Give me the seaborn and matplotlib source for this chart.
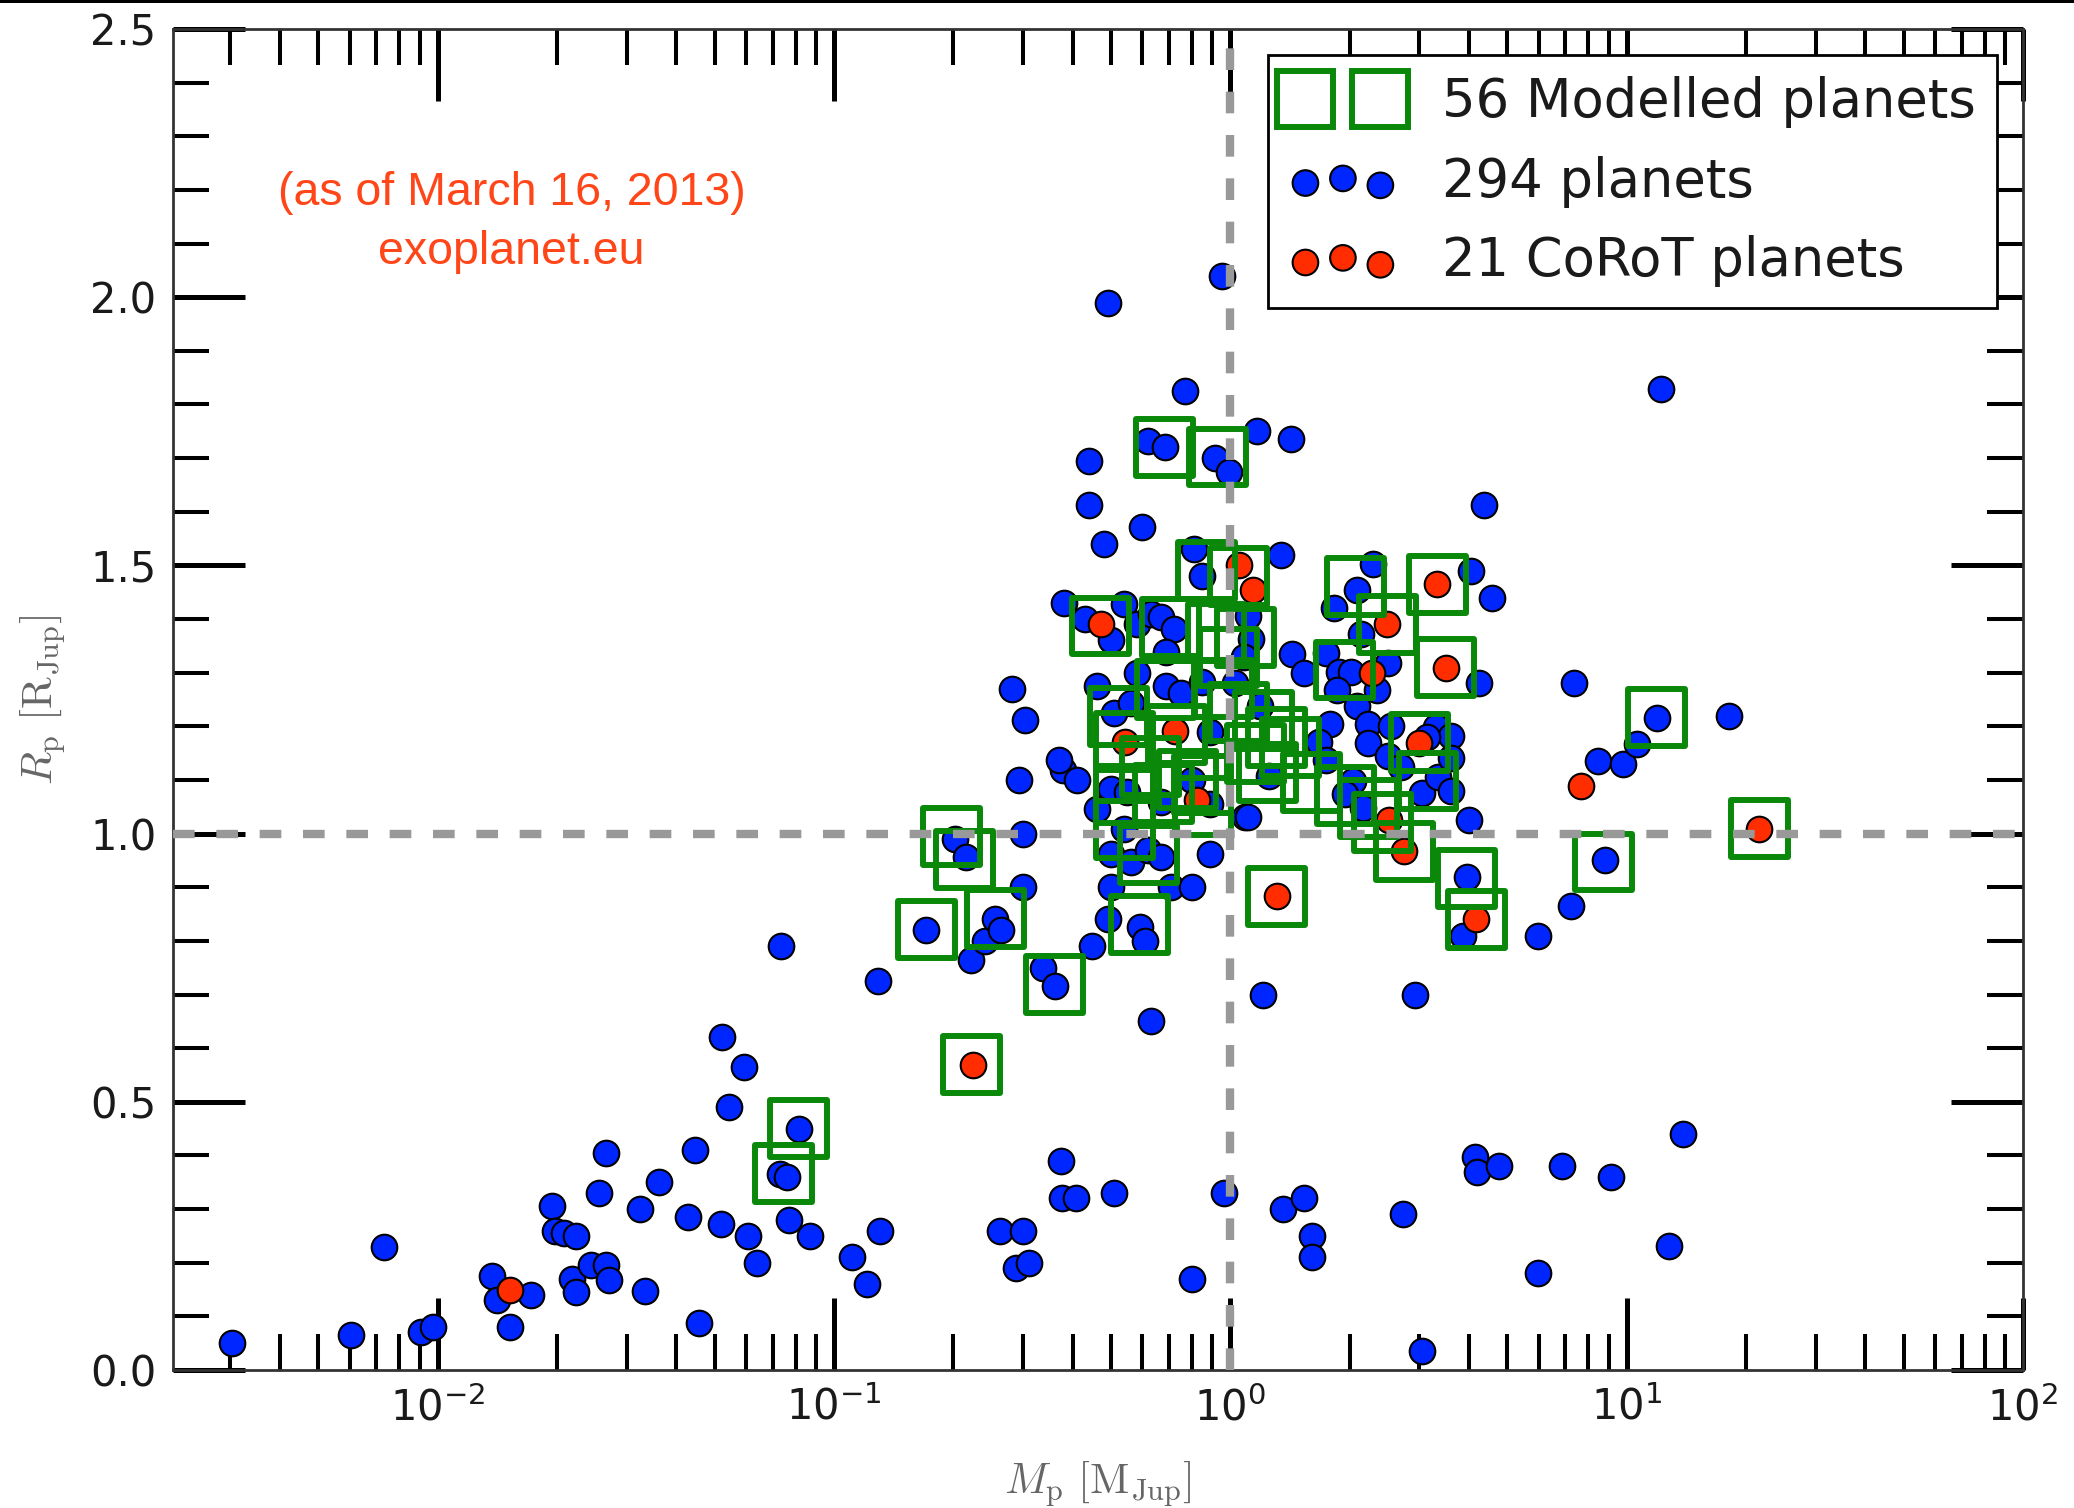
import numpy as np
import matplotlib
matplotlib.use("Agg")
import matplotlib.pyplot as plt
from matplotlib.lines import Line2D
from matplotlib.patches import Rectangle
from matplotlib.ticker import MultipleLocator, FormatStrFormatter, LogLocator
import seaborn as sns

# ---------------------------------------------------------------- data
# Transiting planets: mass [M_Jup], radius [R_Jup]
blue_mass = [
    0.00303, 0.00605, 0.00733, 0.0091, 0.00975, 0.0137, 0.0141, 0.0152, 0.0172, 0.0194,
    0.0198, 0.0208, 0.0218, 0.0223, 0.0223, 0.0243, 0.0255, 0.0266, 0.0266, 0.027,
    0.0323, 0.0333, 0.0362, 0.0429, 0.0446, 0.0456, 0.052, 0.0523, 0.0544, 0.0593,
    0.0607, 0.064, 0.0735, 0.073, 0.076, 0.0769, 0.0818, 0.087, 0.111, 0.121,
    0.129, 0.1305, 0.171, 0.2025, 0.215, 0.222, 0.24, 0.255, 0.264, 0.263,
    0.282, 0.288, 0.299, 0.304, 0.293, 0.299, 0.300, 0.311, 0.336, 0.36,
    0.374, 0.379, 0.377, 0.407, 0.447, 0.490, 0.508, 0.630, 0.80, 0.962,
    1.21, 1.36, 1.53, 1.61, 1.61, 2.72, 3.05, 2.93, 4.14, 4.2,
    4.75, 4.37, 4.57, 4.05, 4.25, 5.98, 5.98, 6.87, 7.36, 7.24,
    8.46, 9.78, 8.8, 9.12, 10.6, 11.9, 12.2, 12.8, 13.9, 18.1,
    3.95, 3.86, 0.77, 0.62, 0.685, 0.915, 0.99, 1.17, 1.42, 0.44,
    0.44, 0.60, 0.48, 0.81, 1.34, 0.955, 0.38, 0.43, 0.50, 0.54,
    0.58, 0.63, 0.67, 0.72, 0.69, 0.85, 1.13, 1.08, 0.58, 0.46,
    0.69, 0.75, 0.85, 0.51, 0.56, 0.89, 1.03, 1.19, 0.37, 0.50,
    0.55, 0.46, 0.67, 0.80, 1.09, 0.54, 0.50, 0.56, 0.62, 0.67,
    0.89, 0.50, 0.71, 0.80, 0.49, 0.59, 0.61, 2.29, 2.09, 1.83,
    2.14, 1.43, 1.53, 1.74, 1.88, 2.01, 2.50, 1.86, 2.35, 2.09,
    1.11, 1.78, 2.22, 1.67, 2.22, 2.54, 3.31, 3.6, 1.74, 2.5,
    1.25, 2.04, 1.95, 2.16, 3.04, 3.34, 4.0, 1.11, 0.41, 0.89,
    3.6, 3.6, 2.7, 3.13,
]
blue_radius = [
    0.05, 0.065, 0.23, 0.07, 0.08, 0.175, 0.13, 0.08, 0.14, 0.305,
    0.26, 0.255, 0.17, 0.25, 0.145, 0.195, 0.33, 0.195, 0.405, 0.167,
    0.30, 0.148, 0.35, 0.285, 0.41, 0.088, 0.272, 0.62, 0.49, 0.565,
    0.25, 0.20, 0.79, 0.365, 0.36, 0.28, 0.45, 0.25, 0.21, 0.16,
    0.725, 0.26, 0.82, 0.99, 0.957, 0.764, 0.80, 0.84, 0.82, 0.26,
    1.27, 0.19, 0.26, 1.211, 1.10, 1.00, 0.90, 0.20, 0.75, 0.715,
    0.39, 1.118, 0.32, 0.32, 0.79, 1.99, 0.33, 0.65, 0.17, 0.33,
    0.70, 0.30, 0.32, 0.25, 0.21, 0.29, 0.035, 0.70, 0.397, 0.37,
    0.38, 1.613, 1.44, 1.49, 1.28, 0.81, 0.18, 0.38, 1.28, 0.865,
    1.135, 1.13, 0.95, 0.36, 1.167, 1.216, 1.828, 0.232, 0.44, 1.22,
    0.92, 0.81, 1.825, 1.732, 1.72, 1.70, 1.674, 1.75, 1.735, 1.695,
    1.613, 1.571, 1.54, 1.53, 1.52, 2.04, 1.43, 1.40, 1.36, 1.428,
    1.39, 1.41, 1.404, 1.381, 1.339, 1.48, 1.362, 1.33, 1.30, 1.275,
    1.275, 1.263, 1.282, 1.225, 1.244, 1.189, 1.28, 1.237, 1.138, 1.083,
    1.078, 1.046, 1.058, 1.10, 1.03, 1.008, 0.962, 0.947, 0.969, 0.957,
    0.962, 0.901, 0.90, 0.90, 0.84, 0.826, 0.799, 1.502, 1.455, 1.421,
    1.372, 1.334, 1.30, 1.337, 1.302, 1.302, 1.318, 1.268, 1.268, 1.237,
    1.405, 1.204, 1.204, 1.171, 1.168, 1.20, 1.199, 1.182, 1.138, 1.144,
    1.107, 1.098, 1.073, 1.048, 1.076, 1.105, 1.026, 1.030, 1.10, 1.055,
    1.14, 1.08, 1.125, 1.18,
]

# CoRoT planets
corot_mass = [0.0152, 0.224, 0.471, 0.541, 0.725, 0.824, 1.05, 1.14, 1.31, 2.28,
              2.49, 3.0, 2.75, 3.33, 3.50, 4.17, 7.66, 21.6, 2.52]
corot_radius = [0.149, 0.569, 1.391, 1.171, 1.191, 1.063, 1.50, 1.455, 0.883, 1.300,
                1.390, 1.169, 0.967, 1.465, 1.309, 0.840, 1.089, 1.009, 1.026]

# Planets with interior models
model_mass = [0.0746, 0.0812, 0.171, 0.198, 0.2135, 0.255, 0.222, 0.360, 0.470, 0.708,
              0.871, 1.05, 0.686, 0.521, 0.541, 0.73, 0.99, 1.05, 0.92, 0.541,
              0.62, 0.59, 0.85, 0.853, 0.54, 1.24, 1.31, 0.682, 0.927, 2.07,
              2.49, 3.33, 3.50, 1.94, 1.09, 3.0, 1.95, 2.23, 2.42, 2.75,
              3.14, 1.6, 3.94, 4.17, 8.75, 11.9, 21.6, 1.21, 1.31, 1.16,
              1.42, 0.78, 0.63, 0.96, 0.68]
model_radius = [0.367, 0.451, 0.822, 0.994, 0.952, 0.841, 0.569, 0.718, 1.387, 1.384,
                1.490, 1.48, 1.268, 1.218, 1.171, 1.185, 1.328, 1.225, 1.375, 1.008,
                0.961, 0.831, 1.092, 1.051, 1.073, 1.114, 0.883, 1.720, 1.702, 1.461,
                1.390, 1.465, 1.309, 1.305, 1.365, 1.169, 1.071, 1.047, 1.021, 0.967,
                1.098, 1.095, 0.917, 0.840, 0.947, 1.216, 1.009, 1.21, 1.18, 1.15,
                1.16, 1.10, 1.125, 1.27, 1.075]

legend_labels = ["56 Modelled planets", "294 planets", "21 CoRoT planets"]
note_lines = ["(as of March 16, 2013)", "exoplanet.eu"]

# ---------------------------------------------------------------- style
BLUE = "#0026ff"
RED = "#ff2d00"
GREEN = "#0a880a"
GREY = "#999999"
NOTE = "#ff4619"

sns.set_style("white")
plt.rcParams["font.family"] = ["DejaVu Sans"]
plt.rcParams["axes.unicode_minus"] = False

fig = plt.figure(figsize=(20.74, 15.08), dpi=100)
ax = fig.add_axes([0.0834, 0.0915, 0.892, 0.8893])

# ---------------------------------------------------------------- marks
DOT = 340
SQ = 41

n0 = len(ax.collections)
sns.scatterplot(x=blue_mass, y=blue_radius, ax=ax, s=DOT, color=BLUE,
                edgecolor="black", linewidth=1.5, legend=False, zorder=1)
blue_pts = ax.collections[n0]

n0 = len(ax.collections)
sns.scatterplot(x=corot_mass, y=corot_radius, ax=ax, s=DOT, color=RED,
                edgecolor="black", linewidth=1.5, legend=False, zorder=1)
red_pts = ax.collections[n0]

sns.scatterplot(x=model_mass, y=model_radius, ax=ax, marker="s", s=SQ ** 2,
                facecolor="none", edgecolor=GREEN, linewidth=4.3,
                legend=False, zorder=1)

dash = (0, (2.6, 2.6))
ax.axhline(1.0, color=GREY, lw=6, ls=dash, zorder=3)
ax.axvline(1.0, color=GREY, lw=6, ls=dash, zorder=3)

# ---------------------------------------------------------------- axes
ax.set_xscale("log")
ax.set_xlim(10 ** -2.668, 100)
ax.set_ylim(0, 2.5)

ax.xaxis.set_major_locator(LogLocator(base=10, numticks=12))
ax.xaxis.set_minor_locator(LogLocator(base=10, subs=np.arange(2, 10), numticks=40))
ax.yaxis.set_major_locator(MultipleLocator(0.5))
ax.yaxis.set_minor_locator(MultipleLocator(0.1))
ax.yaxis.set_major_formatter(FormatStrFormatter("%.1f"))

ax.tick_params(which="both", direction="in", top=True, right=True,
               bottom=True, left=True, colors="black", labelcolor="#1a1a1a")
ax.tick_params(which="major", length=52, width=3.6, labelsize=30, pad=12)
ax.tick_params(which="minor", length=26, width=2.9)

for sp in ax.spines.values():
    sp.set_color("#333333")
    sp.set_linewidth(2)
    sp.set_visible(True)

ax.set_xlabel(r"$M_\mathrm{p}\ [\mathrm{M}_\mathrm{Jup}]$", fontsize=31,
              color="#666666", math_fontfamily="cm", labelpad=22)
ax.set_ylabel(r"$R_\mathrm{p}\ [\mathrm{R}_\mathrm{Jup}]$", fontsize=31,
              color="#666666", math_fontfamily="cm", labelpad=16)

# ---------------------------------------------------------------- notes
ax.text(0.183, 0.878, note_lines[0], transform=ax.transAxes, ha="center",
        va="center", color=NOTE, fontsize=33.5, family=["Liberation Sans"])
ax.text(0.183, 0.834, note_lines[1], transform=ax.transAxes, ha="center",
        va="center", color=NOTE, fontsize=33.5, family=["Liberation Sans"])

# ---------------------------------------------------------------- legend
h_model = Line2D([], [], ls="none", marker="s", ms=SQ, mfc="none",
                 mec=GREEN, mew=4.3)
leg = ax.legend([h_model, blue_pts, red_pts], legend_labels,
                loc="upper right", numpoints=2, scatterpoints=3,
                fontsize=38, frameon=True, fancybox=False, edgecolor="black",
                framealpha=1, handlelength=2.02, handletextpad=0.86,
                labelspacing=0.52, borderpad=0.4, borderaxespad=0.5)
leg.get_frame().set_linewidth(2)
for t in leg.get_texts():
    t.set_color("#1a1a1a")

# thin dark rule along the top edge of the figure
fig.add_artist(Rectangle((0, 1 - 3 / 1508), 1, 3 / 1508,
                         transform=fig.transFigure, facecolor="black",
                         edgecolor="none"))

fig.savefig("out.png", dpi=100)
